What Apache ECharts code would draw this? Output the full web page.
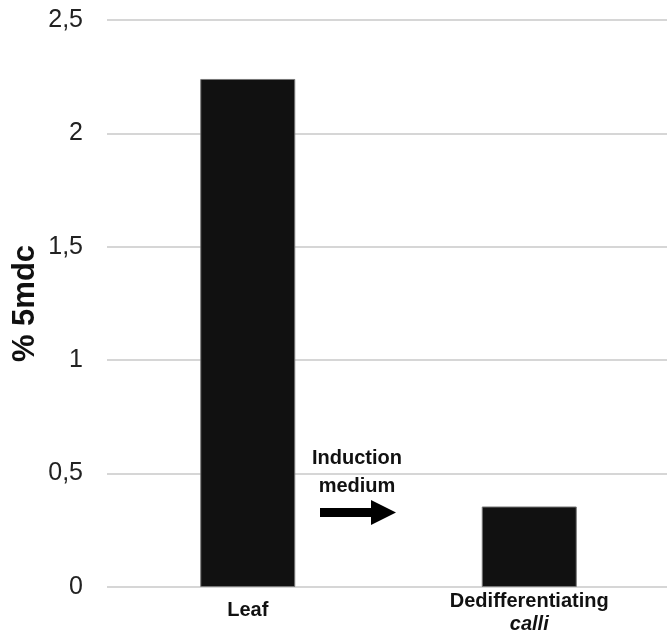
<!DOCTYPE html>
<html><head><meta charset="utf-8">
<script src="https://cdn.jsdelivr.net/npm/echarts@6/dist/echarts.min.js"></script>
<style>html,body{margin:0;padding:0;background:#fff}#c{width:667px;height:636px}</style>
</head><body><div id="c"></div>
<script>
const categories = ['Leaf', 'Dedifferentiating'];
const values = [2.24, 0.355];
const yTicks = [0, 0.5, 1, 1.5, 2, 2.5];
const yTitle = '% 5mdc';

const FONT = 'Liberation Sans, Arial, sans-serif';
const chart = echarts.init(document.getElementById('c'));
chart.setOption({
  animation: false,
  textStyle: { fontFamily: FONT },
  grid: { left: 107, top: 20, width: 563, bottom: 49, containLabel: false, outerBoundsMode: 'none' },
  xAxis: {
    type: 'category', data: categories,
    axisLine: { show: false }, axisTick: { show: false },
    axisLabel: {
      margin: 3, color: '#111', fontWeight: 'bold', fontSize: 20, lineHeight: 23,
      formatter: v => v === 'Dedifferentiating' ? '{b|Dedifferentiating}\n{i|calli}' : '{c|' + v + '}',
      rich: {
        b: { fontWeight: 'bold', fontSize: 20, color: '#111', lineHeight: 23 },
        i: { fontWeight: 'bold', fontStyle: 'italic', fontSize: 20, color: '#111', lineHeight: 23 },
        c: { fontWeight: 'bold', fontSize: 20, color: '#111', lineHeight: 23, padding: [18, 0, 0, 0] }
      }
    }
  },
  yAxis: {
    type: 'value', min: 0, max: 2.5, interval: 0.5,
    axisLine: { show: false }, axisTick: { show: false },
    axisLabel: { margin: 24, fontSize: 25, color: '#222', formatter: v => String(v).replace('.', ',') },
    splitLine: { lineStyle: { color: '#c8c8c8', width: 1.5 } },
    name: yTitle, nameLocation: 'middle', nameGap: 66, nameRotate: 90, nameMoveOverlap: false,
    nameTextStyle: { fontSize: 31, fontWeight: 'bold', color: '#111' }
  },
  series: [{
    type: 'bar', data: values, barWidth: 95,
    itemStyle: { color: '#111', borderColor: '#777', borderWidth: 1 }
  }],
  graphic: [
    { type: 'text', x: 357, y: 444, style: { text: 'Induction\nmedium', align: 'center', verticalAlign: 'top', lineHeight: 28, font: 'bold 20px Liberation Sans, Arial, sans-serif', fill: '#111' } },
    { type: 'polygon', shape: { points: [[320,508],[371,508],[371,500],[396,512.5],[371,525],[371,517],[320,517]] }, style: { fill: '#000' } }
  ]
});
</script></body></html>
